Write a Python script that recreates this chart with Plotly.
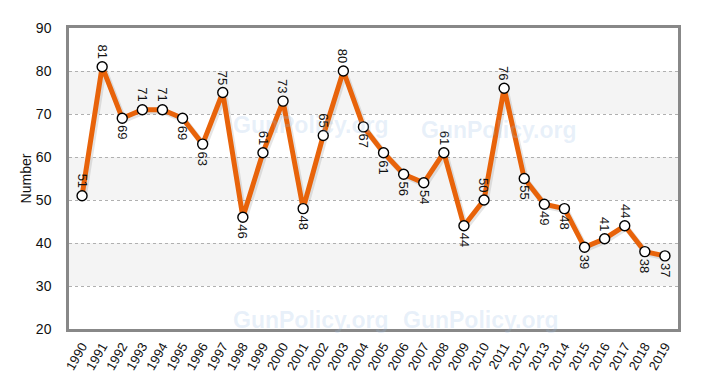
import plotly.graph_objects as go

years = list(range(1990, 2020))
values = [51, 81, 69, 71, 71, 69, 63, 75, 46, 61, 73, 48, 65, 80, 67, 61, 56, 54, 61, 44,
          50, 76, 55, 49, 48, 39, 41, 44, 38, 37]
label_pos = ["a", "a", "b", "a", "a", "b", "b", "a", "b", "a", "a", "b", "a", "a", "b", "b",
             "b", "b", "a", "b", "a", "a", "b", "b", "b", "b", "a", "a", "b", "b"]
y_ticks = [20, 30, 40, 50, 60, 70, 80, 90]
band_ranges = [(30, 40), (50, 60), (70, 80)]

# page has an 8px body margin, so the figure is drawn 8px right/down
OFF = 8
L, R, T, B = 69 - OFF, 29, 28 - OFF, 51
W, H = 707 - OFF, 380 - OFF
pw, ph = W - L - R, H - T - B

fig = go.Figure()

for lo, hi in band_ranges:
    fig.add_shape(type="rect", xref="paper", yref="y", x0=0, x1=1, y0=lo, y1=hi,
                  fillcolor="#f4f4f4", line_width=0, layer="below")

# shadow
fig.add_trace(go.Scatter(x=[y + 0.08 for y in years], y=[v - 0.4 for v in values], mode="lines",
                         line=dict(color="rgba(0,0,0,0.10)", width=6), hoverinfo="skip",
                         showlegend=False))
fig.add_trace(go.Scatter(x=years, y=values, mode="lines+markers",
                         line=dict(color="#e8630a", width=5),
                         marker=dict(size=10, color="white", line=dict(color="black", width=1.4)),
                         showlegend=False))

for yr, v, p in zip(years, values, label_pos):
    fig.add_annotation(x=yr, y=v, text=str(v), showarrow=False, textangle=90,
                       font=dict(family="Arial, Liberation Sans", size=13, color="#111"),
                       yanchor="bottom" if p == "a" else "top",
                       yshift=6 if p == "a" else -5)

# watermarks (page pixel positions converted to paper coords)
for px, py in [(310, 110), (578, 115), (310, 335), (560, 335)]:
    fig.add_annotation(xref="paper", yref="paper", x=(px - OFF - L) / pw,
                       y=(H - B - (py - OFF)) / ph,
                       text="<b>GunPolicy.org</b>", showarrow=False,
                       font=dict(family="Arial, Liberation Sans", size=23,
                                 color="rgba(150,190,230,0.22)"))

fig.update_layout(
    width=W, height=H,
    margin=dict(l=L, r=R, t=T, b=B),
    paper_bgcolor="white", plot_bgcolor="white",
    font=dict(family="Arial, Liberation Sans", color="#111"),
    xaxis=dict(range=[1989.35, 2019.65], tickmode="array", tickvals=years,
               ticktext=[str(y) for y in years], tickangle=-60, automargin=False,
               tickfont=dict(size=13), showgrid=False, zeroline=False,
               showline=True, linecolor="#888", linewidth=2.5, mirror=True,
               ticks="outside", ticklen=2, tickcolor="rgba(0,0,0,0)"),
    yaxis=dict(range=[20, 90], tickvals=y_ticks, tickfont=dict(size=14), automargin=False,
               showgrid=True, gridcolor="#b0b0b0", griddash="dot", gridwidth=1,
               zeroline=False, showline=True, linecolor="#888", linewidth=2.5, mirror=True,
               title=dict(text="Number", font=dict(size=14), standoff=1),
               ticks="outside", ticklen=12, tickcolor="rgba(0,0,0,0)"),
)

fig.write_html("out.html")
